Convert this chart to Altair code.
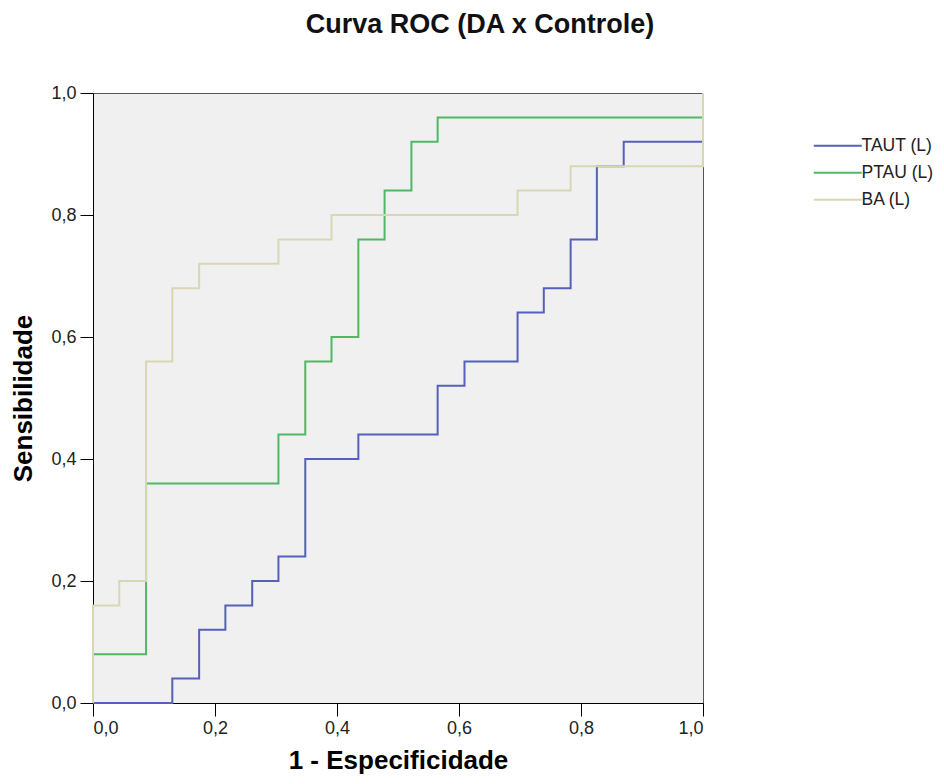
import altair as alt
import pandas as pd

# ROC curve vertices (step-after): 1 - specificity, sensitivity
series_names = ["TAUT (L)", "PTAU (L)", "BA (L)"]
taut_fpr = [0, .130, .174, .217, .261, .304, .348, .435, .565, .609, .696, .739, .783, .826, .870, 1]
taut_sens = [0, .04, .12, .16, .20, .24, .40, .44, .52, .56, .64, .68, .76, .88, .92, 1]
ptau_fpr = [0, 0, .087, .304, .348, .391, .435, .478, .522, .565, 1]
ptau_sens = [0, .08, .36, .44, .56, .60, .76, .84, .92, .96, 1]
ba_fpr = [0, 0, .043, .087, .130, .174, .304, .391, .696, .783, 1]
ba_sens = [0, .16, .20, .56, .68, .72, .76, .80, .84, .88, 1]
colors = ["#5560b9", "#4fb865", "#d9d6b3"]
axis_ticks = [0, 0.2, 0.4, 0.6, 0.8, 1.0]

rows = []
for name, xs, ys in zip(series_names, [taut_fpr, ptau_fpr, ba_fpr], [taut_sens, ptau_sens, ba_sens]):
    for i, (xv, yv) in enumerate(zip(xs, ys)):
        rows.append({"series": name, "fpr": xv, "sens": yv, "idx": i})
df = pd.DataFrame(rows)

FONT = "Liberation Sans"
label_expr = "replace(format(datum.value, '.1f'), '.', ',')"

x_enc = alt.X(
    "fpr:Q",
    scale=alt.Scale(domain=[0, 1], nice=False),
    axis=alt.Axis(
        values=axis_ticks, labelExpr=label_expr, grid=False, tickSize=13,
        labelPadding=3, labelFontSize=18, labelFont=FONT, labelColor="#222",
        domainColor="#000", tickColor="#000", title="1 - Especificidade",
        titleFont=FONT, titleFontSize=26, titleFontWeight="bold", titleColor="#000",
        titleX=305, titleY=57, titleBaseline="middle", titleAnchor="middle",
    ),
)
y_enc = alt.Y(
    "sens:Q",
    scale=alt.Scale(domain=[0, 1], nice=False),
    axis=alt.Axis(
        values=axis_ticks, labelExpr=label_expr, grid=False, tickSize=13,
        labelPadding=4, labelFontSize=18, labelFont=FONT, labelColor="#222",
        domainColor="#000", tickColor="#000", title="Sensibilidade",
        titleFont=FONT, titleFontSize=26, titleFontWeight="bold", titleColor="#000",
        titleX=-70, titleY=305, titleAngle=-90, titleBaseline="middle", titleAlign="center",
    ),
)
color_enc = alt.Color(
    "series:N",
    scale=alt.Scale(domain=series_names, range=colors),
    legend=alt.Legend(
        title=None, orient="none", legendX=736, legendY=44,
        symbolType="M-4,0H4", symbolSize=144, symbolStrokeWidth=2,
        labelFont=FONT, labelFontSize=17.5, labelColor="#222", labelOffset=15,
        rowPadding=8,
    ),
)

base = alt.Chart(df).mark_line(interpolate="step-after", strokeWidth=2).encode(
    x=x_enc, y=y_enc, color=color_enc, order="idx:Q"
)

layers = [base.transform_filter(alt.datum.series == s) for s in series_names]

chart = alt.layer(*layers).properties(
    width=610,
    height=610,
    title=alt.TitleParams(
        "Curva ROC (DA x Controle)", font=FONT, fontSize=27, fontWeight="bold",
        color="#111", anchor="middle", dx=82, offset=45,
    ),
    autosize=alt.AutoSizeParams(type="none"),
    padding={"left": 85, "top": 85, "right": 233, "bottom": 73},
    background="white",
).configure_view(
    fill="#f0f0f0", stroke="#555", strokeWidth=1
)

chart.save("out.html", embed_options={"renderer": "svg", "actions": False})
